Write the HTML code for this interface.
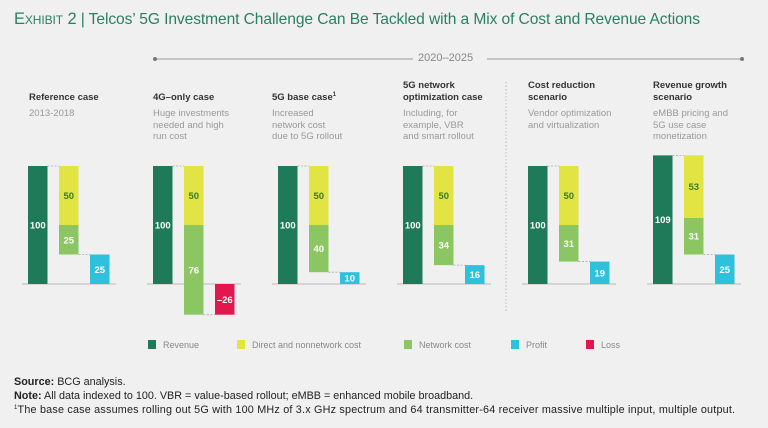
<!DOCTYPE html>
<html><head><meta charset="utf-8">
<style>
body{margin:0;background:#f0f0f0;font-family:"Liberation Sans",sans-serif;}
#wrap{position:relative;width:768px;height:428px;overflow:hidden;background:#f0f0f0;}
.t{position:absolute;white-space:nowrap;}
.h{font-weight:bold;font-size:9.5px;color:#333;line-height:12px;}
.s{font-size:9.5px;color:#999;line-height:11.5px;}
.fn{font-size:10.8px;color:#222;left:14px;line-height:13px;}
sup{line-height:0;vertical-align:4px;}
</style></head>
<body>
<div id="wrap">
<div class="t" style="left:14px;top:10px;font-size:15.6px;color:#2a7f62;letter-spacing:-0.1px"><span style="font-variant:small-caps;font-size:16.5px">Exhibit 2</span> | Telcos’ 5G Investment Challenge Can Be Tackled with a Mix of Cost and Revenue Actions</div>
<svg id="chart" width="768" height="428" style="position:absolute;left:0;top:0"></svg>
<div class="t h" style="left:29px;top:92px">Reference case</div>
<div class="t s" style="left:29px;top:108px">2013-2018</div>
<div class="t h" style="left:153px;top:92px">4G–only case</div>
<div class="t s" style="left:153px;top:108px">Huge investments<br>needed and high<br>run cost</div>
<div class="t h" style="left:272px;top:92px">5G base case<sup style="font-size:6px">1</sup></div>
<div class="t s" style="left:272px;top:108px">Increased<br>network cost<br>due to 5G rollout</div>
<div class="t h" style="left:403px;top:80px">5G network<br>optimization case</div>
<div class="t s" style="left:403px;top:108px">Including, for<br>example, VBR<br>and smart rollout</div>
<div class="t h" style="left:528px;top:80px">Cost reduction<br>scenario</div>
<div class="t s" style="left:528px;top:108px">Vendor optimization<br>and virtualization</div>
<div class="t h" style="left:653px;top:80px">Revenue growth<br>scenario</div>
<div class="t s" style="left:653px;top:108px">eMBB pricing and<br>5G use case<br>monetization</div>
<div class="t" style="left:418px;top:52px;font-size:11px;color:#888">2020–2025</div>
<div class="t fn" style="top:376px"><b>Source:</b> BCG analysis.</div>
<div class="t fn" style="top:390px"><b>Note:</b> All data indexed to 100. VBR = value-based rollout; eMBB = enhanced mobile broadband.</div>
<div class="t fn" style="top:404px;letter-spacing:0.2px"><sup style="font-size:6px">1</sup>The base case assumes rolling out 5G with 100 MHz of 3.x GHz spectrum and 64 transmitter-64 receiver massive multiple input, multiple output.</div>
</div>
<script>
const cases=["Reference","4G-only","5G base","5G optimization","Cost reduction","Revenue growth"];
const revenue=[100,100,100,100,100,109];
const directCost=[50,50,50,50,50,53];
const networkCost=[25,76,40,34,31,31];
const profit=[25,-26,10,16,19,25];
const legendLabels=["Revenue","Direct and nonnetwork cost","Network cost","Profit","Loss"];

const C={rev:"#1e7a58",dir:"#e2e444",net:"#8cc663",pro:"#2fc0dc",loss:"#e3174f"};
const svg=document.getElementById('chart');
const NS="http://www.w3.org/2000/svg";
const base=284, k=1.18;
const y=v=>base-v*k;
const gx=i=>28+i*125;
function el(t,a){const e=document.createElementNS(NS,t);for(const n in a)e.setAttribute(n,a[n]);svg.appendChild(e);return e;}
let l=el('line',{x1:155,y1:59,x2:413,y2:59,stroke:'#999','stroke-width':1});

l=el('line',{x1:487,y1:59,x2:742,y2:59,stroke:'#999','stroke-width':1});

el('circle',{cx:155,cy:59,r:2,fill:'#777'});el('circle',{cx:742,cy:59,r:2,fill:'#777'});
l=el('line',{x1:506,y1:82,x2:506,y2:313,stroke:'#bbb','stroke-dasharray':'1.5,2'});

function bar(x,v0,v1,fill,name,label,tc){
 const t=Math.min(y(v0),y(v1)),b=Math.max(y(v0),y(v1));
 const r=el('rect',{x:x,y:t,width:19.5,height:b-t,fill:fill});
 
 const tx=el('text',{x:x+9.75,y:(t+b)/2+3.5,'text-anchor':'middle','font-size':9.5,'font-weight':'bold',fill:tc,'font-family':'Liberation Sans, sans-serif'});
 tx.textContent=label;
 
}
function dash(x1,x2,v){el('line',{x1:x1,x2:x2,y1:y(v),y2:y(v),stroke:'#aaa','stroke-dasharray':'2,1.5','stroke-width':0.8});}
cases.forEach((c,i)=>{
 const x=gx(i);
 const ax=el('line',{x1:x-6,x2:x+88,y1:base,y2:base,stroke:'#ccc','stroke-width':1.5});
 
 const r=revenue[i],d=directCost[i],n=networkCost[i],p=profit[i];
 bar(x,0,r,C.rev,'revenue-bar-'+i,String(r),'#fff');
 dash(x+19.5,x+31,r);
 bar(x+31,r,r-d,C.dir,'direct-cost-bar-'+i,String(d),'#3a7a2a');
 bar(x+31,r-d,r-d-n,C.net,'network-cost-bar-'+i,String(n),'#fff');
 dash(x+50.5,x+62,r-d-n);
 if(p>=0)bar(x+62,0,p,C.pro,'profit-bar-'+i,String(p),'#fff');
 else bar(x+62,0,p,C.loss,'loss-bar-'+i,'–'+Math.abs(p),'#fff');
});
const lgx=[148,237,404,511,586],lgc=[C.rev,C.dir,C.net,C.pro,C.loss];
legendLabels.forEach((s,i)=>{
 const r=el('rect',{x:lgx[i],y:340,width:8,height:9,fill:lgc[i]});
 
 const t=el('text',{x:lgx[i]+15,y:348,'font-size':9,fill:'#888','font-family':'Liberation Sans, sans-serif'});
 t.textContent=s;
 
});
</script>
</body></html>
